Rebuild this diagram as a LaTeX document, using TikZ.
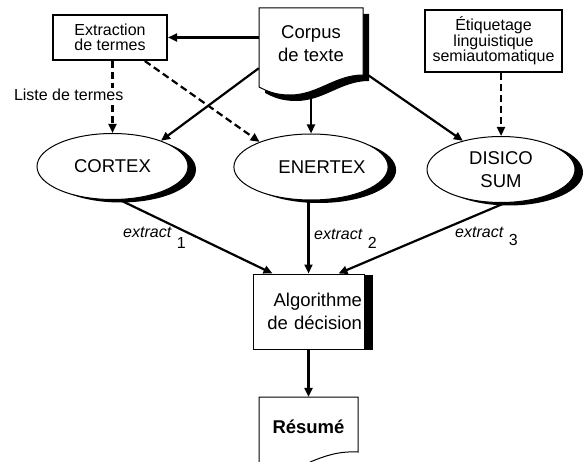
\documentclass[tikz,border=0pt]{standalone}
\usepackage{fontspec}
\setmainfont{Liberation Sans}
\usetikzlibrary{shapes.geometric,arrows.meta,shadows}

\begin{document}
\begin{tikzpicture}[x=1pt, y=-1pt,
  big/.style={font=\fontsize{18.5}{23}\selectfont},
  small/.style={font=\fontsize{16}{15.5}\selectfont},
  tool/.style={ellipse, draw, line width=1pt, fill=white, big, align=center, inner sep=0pt,
    minimum width=151pt, minimum height=66pt,
    drop shadow={shadow xshift=8pt, shadow yshift=-3pt, fill=black, opacity=1}},
  task/.style={draw, line width=2pt, small, align=center, inner sep=0pt},
  flow/.style={line width=2.2pt, -{Triangle[length=9pt, width=8pt]}},
  dflow/.style={flow, dash pattern=on 7pt off 4pt},
  extr/.style={small, anchor=base west, inner sep=0pt}]

\useasboundingbox (0,0) rectangle (583,462);

% corpus sheet with its shadow
\fill[xshift=6pt, yshift=-6pt] (259,8) -- (363,8) -- (363,75) .. controls (335,75) and (318,95) .. (290,95) .. controls (275,95) and (267,91) .. (259,87) -- cycle;
\filldraw[fill=white, line width=1pt] (259,8) -- (363,8) -- (363,75) .. controls (335,75) and (318,95) .. (290,95) .. controls (275,95) and (267,91) .. (259,87) -- cycle;

\node[big, minimum width=104pt, minimum height=71pt, inner sep=0pt, align=center] (corpus) at (311,43.5) {Corpus\\de texte};
\node[task, minimum width=114pt, minimum height=45pt] (extraction) at (110,37.5) {Extraction\\de termes};
\node[task, minimum width=137pt, minimum height=62pt] (etiq) at (493.5,41) {Étiquetage\\linguistique\\semiautomatique};

\node[tool] (cortex) at (112.5,166.5) {CORTEX};
\node[tool] (enertex) at (311,167) {\hspace*{22pt}ENERTEX};
\node[tool, minimum width=148pt] (disico) at (501,169.5) {DISICO\\SUM};

\node[draw, line width=1pt, fill=white, big, minimum width=111pt, minimum height=75pt, inner sep=2pt, text width=107pt, align=right,
  drop shadow={shadow xshift=9pt, shadow yshift=-1pt, fill=black, opacity=1}] (algo) at (308.5,311.5) {Algorithme\\de décision};

% summary sheet, cut by the page
\node[big, font=\fontsize{18.5}{23}\selectfont\bfseries, minimum width=99pt, minimum height=60pt, inner sep=0pt] (resume) at (308.5,427) {Résumé};
\draw[line width=1pt] (259,462) -- (259,397) -- (358,397) -- (358,452) .. controls (338,451) and (325,456) .. (310,462);

\draw[flow] (corpus.west |- extraction.east) -- (extraction.east);
\draw[dflow] (cortex.north |- extraction.south) -- node[pos=0.47, small, fill=white, anchor=east, xshift=13pt, inner sep=1pt] (liste) {Liste de termes} (cortex.north);
\draw[dflow] (extraction.-34) -- (enertex.154);
\draw[dflow] (etiq.south -| disico.north) -- (disico.north);
\draw[flow] ([yshift=11pt]corpus.south west) -- (cortex.28);
\draw[flow] ([yshift=-19pt]corpus.south) -- (enertex.north);
\draw[flow] ([xshift=5pt, yshift=4pt]corpus.south east) -- (disico.143);

\draw[flow] (cortex.-78) -- ([xshift=20pt]algo.north west);
\draw[flow] (algo.north |- enertex.south) -- (algo.north);
\draw[flow] (disico.-83) -- ([xshift=-26pt]algo.north east);
\draw[flow] (algo.south) -- (resume.north);

\node[extr] (ex1) at (123,238) {\textit{extract}\hspace{5pt}\raisebox{-10pt}{1}};
\node[extr] (ex2) at (314,240) {\textit{extract}\hspace{5pt}\raisebox{-9pt}{2}};
\node[extr] (ex3) at (455,237) {\textit{extract}\hspace{5pt}\raisebox{-9pt}{3}};
\end{tikzpicture}
\end{document}
